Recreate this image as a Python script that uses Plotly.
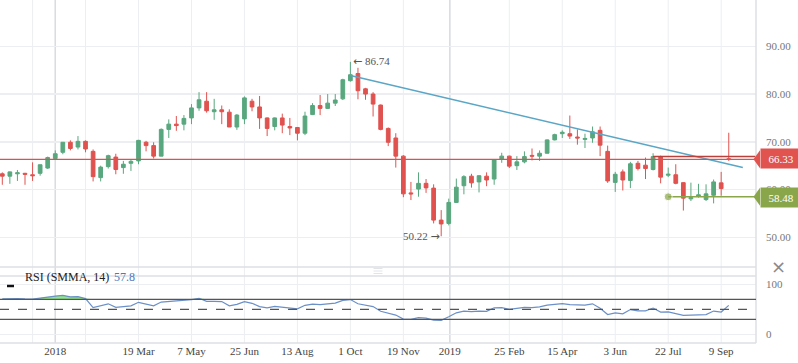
import plotly.graph_objects as go
import pandas as pd

# ---------------- data ----------------
dates = pd.date_range("2017-11-13", periods=97, freq="7D")

open_ = [63.3, 62.8, 63.3, 63.4, 63.1, 63.4, 64.5, 66.5, 67.8, 69.9, 68.9, 70.1, 68.0, 62.5, 64.8, 66.8, 64.6, 65.5,
         66.0, 69.9, 69.2, 67.0, 72.6, 73.7, 73.7, 75.0, 77.1, 78.5, 76.3, 76.7, 76.2, 73.1, 74.8, 78.5, 77.3, 75.0,
         73.2, 75.0, 73.2, 73.0, 71.8, 75.7, 77.6, 77.0, 78.1, 79.0, 82.8, 84.3, 81.1, 80.0, 77.7, 72.8, 70.8, 67.0,
         59.3, 60.1, 61.3, 60.3, 53.6, 52.9, 57.3, 60.8, 62.8, 61.6, 62.8, 62.2, 66.3, 67.0, 65.0, 65.8, 67.15, 67.0,
         67.6, 70.4, 71.7, 71.7, 71.0, 70.5, 70.8, 72.4, 68.0, 61.5, 63.7, 61.9, 65.5, 65.1, 64.2, 66.9, 63.0, 63.1,
         61.45, 58.05, 58.55, 57.9, 58.8, 61.4, 66.45]
high = [63.6, 63.8, 64.1, 63.5, 65.7, 65.2, 66.9, 68.2, 69.9, 70.3, 71.2, 70.3, 68.4, 65.0, 67.3, 67.5, 66.0, 66.2,
        70.4, 70.2, 69.9, 72.8, 74.7, 75.4, 75.6, 77.9, 80.4, 80.4, 79.0, 77.6, 76.8, 75.8, 79.5, 79.0, 79.6, 75.1,
        75.1, 75.9, 75.0, 73.1, 76.3, 78.1, 79.8, 80.0, 80.0, 83.2, 86.74, 85.5, 81.3, 80.4, 77.8, 73.0, 71.8, 67.2,
        61.6, 63.6, 62.2, 61.1, 55.7, 58.1, 62.3, 63.0, 63.3, 63.0, 63.6, 66.2, 67.7, 67.1, 67.0, 68.0, 68.6, 68.2,
        70.5, 71.7, 72.4, 75.5, 72.6, 71.7, 73.2, 73.2, 69.2, 63.7, 64.2, 65.8, 66.0, 66.7, 67.6, 67.1, 64.6, 65.3,
        61.5, 61.45, 61.2, 61.1, 62.1, 63.7, 71.9]
low = [61.0, 61.2, 61.8, 61.0, 61.8, 62.9, 64.3, 66.5, 67.4, 68.2, 68.4, 67.8, 61.7, 61.7, 64.4, 63.2, 63.3, 63.9,
       65.3, 68.0, 66.5, 67.0, 70.8, 72.3, 72.4, 73.7, 76.5, 76.1, 74.6, 73.7, 73.1, 72.5, 73.7, 76.4, 72.7, 71.2,
       72.4, 71.8, 71.4, 70.3, 71.4, 75.6, 75.6, 76.9, 77.5, 78.75, 82.6, 78.9, 78.8, 75.3, 72.4, 69.1, 64.6, 58.4,
       57.8, 58.5, 59.3, 52.9, 50.22, 52.5, 57.2, 59.0, 60.4, 59.4, 60.7, 61.0, 65.6, 64.5, 64.1, 65.5, 66.1, 66.0,
       67.6, 70.3, 70.8, 70.6, 69.4, 68.7, 69.8, 67.0, 61.4, 59.5, 59.8, 60.3, 64.0, 62.2, 64.0, 61.3, 62.6, 61.1,
       55.6, 57.6, 58.3, 57.6, 57.1, 58.7, 66.0]
close = [62.8, 63.7, 63.5, 63.2, 62.9, 65.2, 66.7, 67.5, 69.9, 68.6, 70.1, 68.5, 62.7, 64.7, 67.1, 64.2, 65.3, 65.9,
         70.3, 69.2, 67.0, 72.6, 73.7, 73.4, 74.9, 77.1, 78.8, 76.5, 76.7, 76.3, 73.1, 75.6, 79.2, 77.3, 75.0, 72.8,
         75.0, 73.5, 72.9, 71.8, 75.4, 77.6, 77.0, 78.1, 78.75, 83.0, 84.05, 80.7, 80.0, 77.9, 72.6, 69.9, 67.0, 59.1,
         59.1, 61.3, 60.35, 53.6, 52.8, 57.3, 60.5, 62.7, 61.4, 62.9, 62.0, 66.2, 67.0, 64.9, 65.8, 66.9, 67.0, 67.6,
         70.4, 71.5, 72.0, 71.2, 70.8, 70.7, 72.1, 69.3, 61.8, 63.2, 62.0, 65.4, 64.4, 64.4, 66.9, 62.6, 63.2, 61.3,
         58.2, 58.3, 58.9, 59.1, 61.6, 60.2, 66.33]
rsi = [71.0, 71.5, 71.5, 70.8, 70.5, 72.5, 75.0, 76.5, 78.0, 75.0, 75.5, 71.5, 53.5, 57.0, 61.0, 54.0, 55.5, 57.0,
       64.0, 61.0, 57.0, 64.5, 65.5, 66.0, 67.5, 69.5, 72.0, 66.0, 66.0, 65.5, 57.0, 60.0, 65.5, 62.0, 55.5, 53.0,
       56.0, 54.0, 52.0, 51.0, 58.0, 60.5, 59.5, 61.0, 62.5, 68.0, 69.5, 61.0, 59.0, 55.5, 46.0, 42.0, 38.5, 30.5,
       30.0, 33.5, 32.5, 28.5, 28.0, 35.0, 43.0, 46.5, 45.5, 46.5, 46.0, 53.0, 53.5, 50.0, 52.0, 54.0, 53.5, 55.0,
       58.5, 60.5, 61.5, 59.5, 58.5, 58.5, 61.0, 52.0, 39.5, 43.0, 41.0, 49.5, 47.0, 47.0, 52.5, 44.5, 45.0, 42.0,
       38.0, 38.5, 39.0, 39.5, 46.5, 44.5, 57.8]

trend_dates = ["2018-10-01", "2019-09-29"]
trend_values = [83.9, 64.6]
support_level = 58.48
support_start = "2019-07-22"
resist_level = 66.9
resist_start = "2019-07-08"

grid_dates = ["2017-12-11", "2018-01-01", "2018-01-29", "2018-03-19", "2018-05-07", "2018-06-25", "2018-08-13",
              "2018-10-01", "2018-11-19", "2019-01-01", "2019-02-25", "2019-04-15", "2019-06-03", "2019-07-22",
              "2019-09-09"]
grid_labels = ["", "2018", "", "19 Mar", "7 May", "25 Jun", "13 Aug", "1 Oct", "19 Nov", "2019", "25 Feb",
               "15 Apr", "3 Jun", "22 Jul", "9 Sep"]
year_lines = ["2018-01-01", "2019-01-01"]
price_ticks = [50, 60, 70, 80, 90]
rsi_ticks = [0, 100]
rsi_levels = [70, 50, 30]

# ---------------- style ----------------
GREEN = "#58a77e"
RED = "#e0524f"
GRID = "#eceef1"
BORDER = "#dcdfe3"
SERIF = "Liberation Serif"
X_RANGE = ["2017-11-10 21:00", "2019-10-11 05:00"]
Y_RANGE = [43.78, 99.7]
R_RANGE = [-17.4, 116.6]
MAIN_DOM = [0.2216, 1.0]
RSI_DOM = [0.0, 0.1953]
PLOT_H = 343.0
PLOT_W = 756.0


def py_main(v):
    return MAIN_DOM[0] + (v - Y_RANGE[0]) / (Y_RANGE[1] - Y_RANGE[0]) * (MAIN_DOM[1] - MAIN_DOM[0])


def ppx(px):
    return px / PLOT_W


def ppy(px):
    return (PLOT_H - px) / PLOT_H


fig = go.Figure()

fig.add_trace(go.Candlestick(
    x=dates, open=open_, high=high, low=low, close=close,
    increasing=dict(line=dict(color=GREEN, width=1), fillcolor=GREEN),
    decreasing=dict(line=dict(color=RED, width=1), fillcolor=RED),
    whiskerwidth=0, showlegend=False, hoverinfo="skip", xaxis="x", yaxis="y"))

fig.add_trace(go.Scatter(x=trend_dates, y=trend_values, mode="lines",
                         line=dict(color="#5aa6c6", width=1.5), showlegend=False, hoverinfo="skip",
                         xaxis="x", yaxis="y"))

fig.add_trace(go.Scatter(x=[resist_start, X_RANGE[1]], y=[resist_level, resist_level], mode="lines",
                         line=dict(color="#b9403b", width=1.5), showlegend=False, hoverinfo="skip",
                         xaxis="x", yaxis="y"))

fig.add_trace(go.Scatter(x=[support_start, X_RANGE[1]], y=[support_level, support_level], mode="lines+markers",
                         line=dict(color="#8aa64b", width=1.5), marker=dict(size=[8, 0], color="#8aa64b"),
                         showlegend=False, hoverinfo="skip", xaxis="x", yaxis="y", cliponaxis=False))

# RSI fills
ob = [max(v, 70) for v in rsi]
os_ = [min(v, 30) for v in rsi]
fig.add_trace(go.Scatter(x=dates, y=[70] * len(rsi), mode="lines", line=dict(width=0), showlegend=False,
                         hoverinfo="skip", xaxis="x2", yaxis="y2"))
fig.add_trace(go.Scatter(x=dates, y=ob, mode="lines", line=dict(width=0), fill="tonexty",
                         fillcolor="rgba(130,230,120,0.9)", showlegend=False, hoverinfo="skip",
                         xaxis="x2", yaxis="y2"))
fig.add_trace(go.Scatter(x=dates, y=[30] * len(rsi), mode="lines", line=dict(width=0), showlegend=False,
                         hoverinfo="skip", xaxis="x2", yaxis="y2"))
fig.add_trace(go.Scatter(x=dates, y=os_, mode="lines", line=dict(width=0), fill="tonexty",
                         fillcolor="rgba(225,110,120,0.85)", showlegend=False, hoverinfo="skip",
                         xaxis="x2", yaxis="y2"))
fig.add_trace(go.Scatter(x=dates, y=rsi, mode="lines", line=dict(color="#6b90c8", width=1.2),
                         showlegend=False, hoverinfo="skip", xaxis="x2", yaxis="y2"))

shapes = []
for d in grid_dates:
    shapes.append(dict(type="line", xref="x", yref="paper", x0=d, x1=d, y0=0, y1=1,
                       line=dict(color=GRID, width=1), layer="below"))
for d in year_lines:
    shapes.append(dict(type="line", xref="x", yref="paper", x0=d, x1=d, y0=0, y1=1,
                       line=dict(color="#d9dce0", width=1.5), layer="below"))
for yy in [MAIN_DOM[0], RSI_DOM[1], 0]:
    shapes.append(dict(type="line", xref="paper", yref="paper", x0=0, x1=1, y0=yy, y1=yy,
                       line=dict(color=BORDER, width=1.5)))
shapes.append(dict(type="line", xref="paper", yref="paper", x0=1, x1=1, y0=0, y1=1,
                   line=dict(color=BORDER, width=1.5)))
shapes.append(dict(type="line", xref="paper", yref="y", x0=0, x1=1, y0=close[-1], y1=close[-1],
                   line=dict(color="#d9534f", width=1.3)))
for lv in rsi_levels:
    shapes.append(dict(type="line", xref="paper", yref="y2", x0=0, x1=1, y0=lv, y1=lv,
                       line=dict(color="#555555", width=1.2, dash="dash" if lv == 50 else "solid")))
for hy in [268.5, 271.0, 273.5]:
    shapes.append(dict(type="line", xref="paper", yref="paper", x0=ppx(373.5), x1=ppx(382.5),
                       y0=ppy(hy), y1=ppy(hy), line=dict(color="#dadde1", width=0.8)))
shapes.append(dict(type="line", xref="paper", yref="paper", x0=ppx(7), x1=ppx(14), y0=ppy(286), y1=ppy(286),
                   line=dict(color="#111111", width=2.5)))
for lvl, col in [(close[-1], "#e0534f"), (support_level, "#8aa64b")]:
    yc = py_main(lvl)
    dy = 9.0 / PLOT_H
    shapes.append(dict(type="path", xref="paper", yref="paper",
                       path=f"M {ppx(753.5)},{yc} L {ppx(760)},{yc + dy} L {ppx(760)},{yc - dy} Z",
                       fillcolor=col, line=dict(width=0)))

ARROW = '<span style="font-family:DejaVu Sans">{}</span>'
annotations = [
    dict(x=dates[46], y=max(high), xref="x", yref="y",
         text=ARROW.format("\u2190") + f" {max(high):.2f}", showarrow=False,
         xanchor="left", xshift=1, font=dict(family=SERIF, size=11, color="#555555")),
    dict(x=dates[58], y=min(low), xref="x", yref="y",
         text=f"{min(low):.2f} " + ARROW.format("\u2192"), showarrow=False,
         xanchor="right", xshift=1, font=dict(family=SERIF, size=11, color="#555555")),
    dict(x=1, y=py_main(close[-1]), xref="paper", yref="paper", text=f"{close[-1]:.2f}", showarrow=False,
         xanchor="left", xshift=4, yshift=1, bgcolor="#e0534f", width=38, height=17, borderpad=1,
         font=dict(family=SERIF, size=11, color="white")),
    dict(x=1, y=py_main(support_level), xref="paper", yref="paper", text=f"{support_level:.2f}",
         showarrow=False, xanchor="left", xshift=4, yshift=-1, bgcolor="#8aa64b", width=38, height=17,
         borderpad=1, font=dict(family=SERIF, size=11, color="white")),
    dict(x=ppx(23), y=ppy(286), xref="paper", yref="paper", text="RSI (SMMA, 14)", showarrow=False,
         xanchor="left", font=dict(family=SERIF, size=12, color="#222222")),
    dict(x=ppx(112), y=ppy(286), xref="paper", yref="paper", text=f"{rsi[-1]:.1f}", showarrow=False,
         xanchor="left", font=dict(family=SERIF, size=12, color="#4a78c2")),
    dict(x=ppx(788), y=ppy(279), xref="paper", yref="paper", text="\u00d7", showarrow=False,
         font=dict(family="DejaVu Sans", size=18, color="#8a8a8a")),
]

fig.update_layout(
    width=798, height=363,
    margin=dict(l=0, r=42, t=0, b=20),
    paper_bgcolor="white", plot_bgcolor="white",
    hovermode=False, showlegend=False,
    xaxis=dict(domain=[0, 1], anchor="y", range=X_RANGE, type="date", showgrid=False, showticklabels=False,
               zeroline=False, showline=False, rangeslider=dict(visible=False), fixedrange=True),
    yaxis=dict(domain=MAIN_DOM, anchor="x", range=Y_RANGE, side="right", tickvals=price_ticks,
               tickformat=".2f", showgrid=True, gridcolor=GRID, gridwidth=1.5, zeroline=False,
               ticks="", ticklabelstandoff=9, tickfont=dict(family=SERIF, size=11, color="#777777")),
    xaxis2=dict(domain=[0, 1], anchor="y2", range=X_RANGE, type="date", matches="x", showgrid=False,
                tickvals=grid_dates, ticktext=grid_labels, ticks="", zeroline=False, showline=False,
                tickfont=dict(family=SERIF, size=11, color="#444444")),
    yaxis2=dict(domain=RSI_DOM, anchor="x2", range=R_RANGE, side="right", tickvals=rsi_ticks,
                showgrid=True, gridcolor=GRID, gridwidth=1.5, zeroline=False, ticks="", ticklabelstandoff=9,
                tickfont=dict(family=SERIF, size=11, color="#777777")),
    shapes=shapes,
    annotations=annotations,
)

fig.write_html("out.html", config={"displayModeBar": False, "staticPlot": True},
               post_script="document.body.style.margin='0px';document.body.style.overflow='hidden';")
